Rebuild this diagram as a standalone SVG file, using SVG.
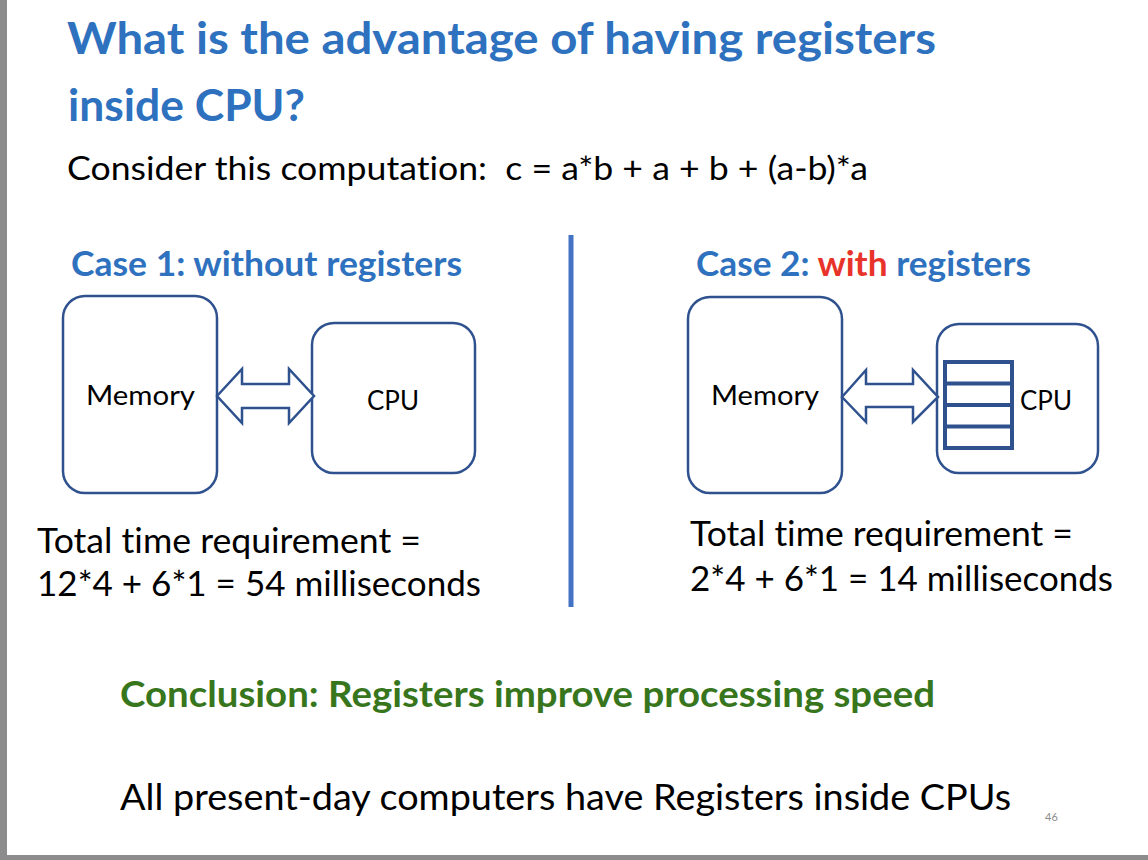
<svg xmlns="http://www.w3.org/2000/svg" width="1148" height="860" viewBox="0 0 1148 860">
<style>
.t{font-family:Lato,"Open Sans","Liberation Sans",sans-serif;font-variant-ligatures:none;}
.b{font-weight:bold;}
.blue{fill:#2E71BE;}
.blk{fill:#000;}
.box{fill:#fff;stroke:#2F528F;stroke-width:2.5;}
.arr{fill:#fff;stroke:#2F528F;stroke-width:2.5;stroke-linejoin:miter;}
.reg{fill:none;stroke:#2F528F;stroke-width:4;}
</style>
<rect x="0" y="0" width="1148" height="860" fill="#fff"/>
<rect x="0" y="0" width="7" height="860" fill="#8c8c8c"/>
<rect x="0" y="855" width="1148" height="5" fill="#8c8c8c"/>

<g id="title">
<text class="t b blue" x="67" y="54" font-size="43" textLength="869" lengthAdjust="spacingAndGlyphs">What is the advantage of having registers</text>
<text class="t b blue" x="68" y="121" font-size="43" textLength="237" lengthAdjust="spacingAndGlyphs">inside CPU?</text>
</g>
<g id="computation">
<text class="t blk" x="67" y="180" font-size="33" textLength="801" lengthAdjust="spacingAndGlyphs" xml:space="preserve">Consider this computation:  c = a*b + a + b + (a-b)*a</text>
</g>

<g id="divider">
<line x1="571" y1="235" x2="571" y2="607" stroke="#4472C4" stroke-width="5"/>
</g>

<g id="case1-label">
<text class="t b blue" x="71" y="276" font-size="34" textLength="391" lengthAdjust="spacingAndGlyphs">Case 1: without registers</text>
</g>
<g id="case2-label">
<text class="t b blue" x="696" y="276" font-size="34" textLength="335" lengthAdjust="spacingAndGlyphs">Case 2: <tspan fill="#E8332A">with</tspan> registers</text>
</g>

<g id="mem1">
<rect class="box" x="63" y="296" width="154" height="197" rx="22"/>
<text class="t blk" x="140.5" y="405" font-size="27" text-anchor="middle" textLength="109" lengthAdjust="spacingAndGlyphs">Memory</text>
</g>
<g id="cpu1">
<rect class="box" x="312" y="323" width="163" height="150" rx="22"/>
<text class="t blk" x="393" y="410" font-size="27" text-anchor="middle" textLength="52" lengthAdjust="spacingAndGlyphs">CPU</text>
</g>

<g id="mem2">
<rect class="box" x="688" y="297" width="154" height="196" rx="22"/>
<text class="t blk" x="765" y="405" font-size="27" text-anchor="middle" textLength="108" lengthAdjust="spacingAndGlyphs">Memory</text>
</g>
<g id="cpu2">
<rect class="box" x="937" y="324" width="161" height="149" rx="22"/>
<rect class="reg" x="945" y="362" width="67" height="86"/>
<line class="reg" x1="945" y1="383.5" x2="1012" y2="383.5"/>
<line class="reg" x1="945" y1="405" x2="1012" y2="405"/>
<line class="reg" x1="945" y1="426.5" x2="1012" y2="426.5"/>
<text class="t blk" x="1046" y="410" font-size="27" text-anchor="middle" textLength="52" lengthAdjust="spacingAndGlyphs">CPU</text>
</g>

<g id="connectors">
<polygon class="arr" points="217,396 242,369 242,384 289,384 289,369 314,396 289,423 289,408 242,408 242,423"/>
<polygon class="arr" points="842,397 866,370 866,384 913,384 913,370 938,397 913,422 913,407 866,407 866,422"/>
</g>

<g id="time1">
<text class="t blk" x="37" y="553" font-size="35" textLength="384" lengthAdjust="spacingAndGlyphs">Total time requirement =</text>
<text class="t blk" x="37" y="596" font-size="35" textLength="444" lengthAdjust="spacingAndGlyphs">12*4 + 6*1 = 54 milliseconds</text>
</g>
<g id="time2">
<text class="t blk" x="690" y="546" font-size="35" textLength="383" lengthAdjust="spacingAndGlyphs">Total time requirement =</text>
<text class="t blk" x="690" y="591" font-size="35" textLength="423" lengthAdjust="spacingAndGlyphs">2*4 + 6*1 = 14 milliseconds</text>
</g>

<g id="conclusion">
<text class="t b" x="120" y="707" font-size="36" fill="#38761D" textLength="815" lengthAdjust="spacingAndGlyphs">Conclusion: Registers improve processing speed</text>
</g>
<g id="footer">
<text class="t blk" x="120" y="810" font-size="36" textLength="891" lengthAdjust="spacingAndGlyphs">All present-day computers have Registers inside CPUs</text>
<text class="t" x="1045" y="821" font-size="11" fill="#8c8c8c">46</text>
</g>
</svg>
